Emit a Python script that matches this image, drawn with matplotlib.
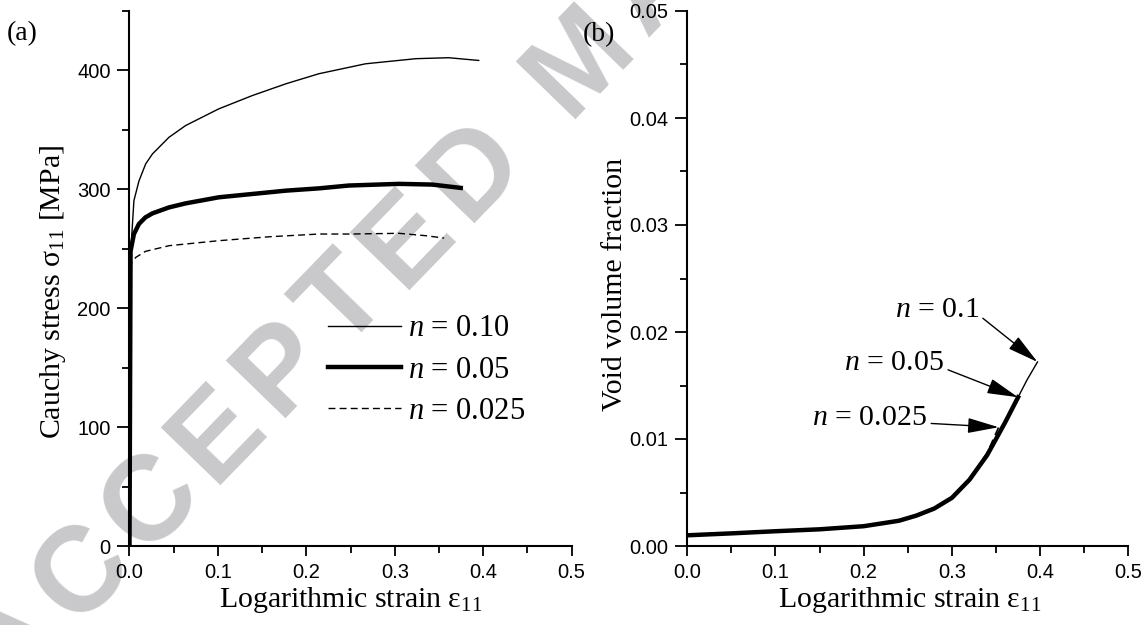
import math
import matplotlib
matplotlib.use("Agg")
import matplotlib.pyplot as plt
from matplotlib.ticker import MultipleLocator, FormatStrFormatter

plt.rcParams['font.family'] = ['Liberation Sans', 'DejaVu Sans']
plt.rcParams['mathtext.fontset'] = 'custom'
plt.rcParams['mathtext.rm'] = 'Liberation Serif'
plt.rcParams['mathtext.it'] = 'Liberation Serif:italic'
plt.rcParams['mathtext.bf'] = 'Liberation Serif:bold'

# ---------------- data (a) stress-strain ----------------
strain_n010 = [0.0, 0.0012, 0.005, 0.0107, 0.0183, 0.026, 0.0447, 0.0636, 0.101, 0.139,
               0.177, 0.214, 0.267, 0.324, 0.361, 0.395]
stress_n010 = [0.0, 245, 290.5, 307, 321.4, 329.8, 343.8, 353.7, 367.7, 378.9,
               388.8, 397.2, 405.6, 409.9, 410.7, 408.4]

strain_n005 = [0.0, 0.0012, 0.005, 0.0107, 0.018, 0.026, 0.0447, 0.0636, 0.101, 0.139,
               0.177, 0.214, 0.248, 0.305, 0.3425, 0.3746]
stress_n005 = [0.0, 248, 262.4, 270.9, 276.4, 279.8, 284.8, 288.2, 293.3, 296.1,
               298.9, 300.8, 303.2, 304.6, 304.0, 301.2]

strain_n0025 = [0.0, 0.0012, 0.007, 0.018, 0.0447, 0.101, 0.158, 0.214, 0.248, 0.305,
                0.335, 0.3558]
stress_n0025 = [0.0, 237, 242.7, 247.8, 252.6, 256.8, 260.1, 262.4, 262.4, 263.0,
                261.0, 259.0]

# ---------------- data (b) void volume fraction ----------------
vstrain_n010 = [0.0, 0.05, 0.10, 0.15, 0.20, 0.24, 0.26, 0.28, 0.30, 0.32, 0.34, 0.36,
                0.375, 0.385, 0.397]
void_n010 = [0.00100, 0.00118, 0.00138, 0.00156, 0.00185, 0.00236, 0.00285, 0.0035,
             0.0045, 0.0062, 0.0085, 0.0115, 0.0139, 0.0155, 0.0172]

vstrain_n005 = [0.0, 0.05, 0.10, 0.15, 0.20, 0.24, 0.26, 0.28, 0.30, 0.32, 0.34, 0.36,
                0.375]
void_n005 = [0.00100, 0.00118, 0.00138, 0.00156, 0.00185, 0.00236, 0.00285, 0.0035,
             0.0045, 0.0062, 0.0085, 0.0115, 0.0139]

vstrain_n0025 = [0.0, 0.05, 0.10, 0.15, 0.20, 0.24, 0.26, 0.28, 0.30, 0.32, 0.34, 0.353]
void_n0025 = [0.00100, 0.00118, 0.00138, 0.00157, 0.00187, 0.00240, 0.00290, 0.0036,
              0.0046, 0.0063, 0.0087, 0.0111]

legend_labels = ["$n$ = 0.10", "$n$ = 0.05", "$n$ = 0.025"]
annot_labels = ["$n$ = 0.1", "$n$ = 0.05", "$n$ = 0.025"]
watermark = "ACCEPTED MANUSCRIPT"

SERIF = 'Liberation Serif'
SANS = 'Liberation Sans'
LABEL_FS = 21.5
W, H = 1148, 625

fig = plt.figure(figsize=(W / 100, H / 100), dpi=100)

# ---- watermark: letter-spaced bold text laid along a 45.9 degree line
adv = {'A': .722, 'C': .722, 'E': .667, 'P': .667, 'T': .611, 'D': .722,
       ' ': .278, 'M': .833, 'N': .722, 'U': .722, 'S': .667, 'R': .722, 'I': .278}
em_px = 120.0
track_px = 12.7
theta = math.radians(45.9)
ux, uy = math.cos(theta), -math.sin(theta)          # text direction (image px, y down)
ref_idx, ref_cx, ref_cy = 2, 143.5, 495.0            # centre of the second 'C'
centres = [0.0]
for a, b in zip(watermark[:-1], watermark[1:]):
    centres.append(centres[-1] + (adv[a] + adv[b]) / 2 * em_px + track_px)
off = centres[ref_idx]
half_cap = 0.716 * em_px / 2
for ch, s in zip(watermark, centres):
    if ch == ' ':
        continue
    cx = ref_cx + (s - off) * ux
    cy = ref_cy + (s - off) * uy
    bx = cx + half_cap * math.sin(theta)
    by = cy + half_cap * math.cos(theta)
    fig.text(bx / W, 1 - by / H, ch, fontsize=em_px * 0.72, fontweight='bold',
             family=SANS, color=(0.79, 0.79, 0.80), rotation=math.degrees(theta),
             rotation_mode='anchor', ha='center', va='baseline', zorder=-5)

axA = fig.add_axes([0.1128, 0.1264, 0.3851, 0.856])
axB = fig.add_axes([0.5986, 0.1264, 0.3843, 0.856])

for ax in (axA, axB):
    ax.patch.set_alpha(0)
    ax.spines['top'].set_visible(False)
    ax.spines['right'].set_visible(False)
    for s in ('left', 'bottom'):
        ax.spines[s].set_linewidth(1.5)
    ax.tick_params(which='both', direction='out', width=1.3, labelsize=14.5)
    ax.tick_params(axis='y', which='major', length=9, pad=4.5)
    ax.tick_params(axis='x', which='major', length=7.5, pad=4.5)
    ax.tick_params(which='minor', length=4.8)
    ax.set_xlim(0, 0.5)
    ax.xaxis.set_major_locator(MultipleLocator(0.1))
    ax.xaxis.set_minor_locator(MultipleLocator(0.05))
    ax.xaxis.set_major_formatter(FormatStrFormatter('%.1f'))

# ----- panel (a)
axA.plot(strain_n010, stress_n010, color='k', lw=1.0, label=legend_labels[0])
axA.plot(strain_n005, stress_n005, color='k', lw=3.2, label=legend_labels[1])
axA.plot(strain_n0025, stress_n0025, color='k', lw=1.0, ls=(0, (5, 3)),
         label=legend_labels[2])
axA.set_ylim(0, 450)
axA.yaxis.set_major_locator(MultipleLocator(100))
axA.yaxis.set_minor_locator(MultipleLocator(50))
axA.yaxis.set_major_formatter(FormatStrFormatter('%d'))
axA.set_xlabel("Logarithmic strain ε$_{11}$", family=SERIF, fontsize=LABEL_FS)
axA.set_ylabel("Cauchy stress σ$_{11}$ [MPa]", family=SERIF, fontsize=LABEL_FS)
axA.xaxis.set_label_coords(0.5, -0.073)
axA.yaxis.set_label_coords(-0.139, 0.475)
leg = axA.legend(loc='upper left', bbox_to_anchor=(0.45, 0.433), frameon=False,
                 prop={'family': SERIF, 'size': 22}, handlelength=2.39,
                 handletextpad=0.2, labelspacing=0.4, borderpad=0,
                 borderaxespad=0)

# ----- panel (b)
axB.plot(vstrain_n010, void_n010, color='k', lw=1.0)
axB.plot(vstrain_n005, void_n005, color='k', lw=3.2)
axB.plot(vstrain_n0025, void_n0025, color='k', lw=1.2, ls=(0, (5, 3)))
axB.set_ylim(0, 0.05)
axB.yaxis.set_major_locator(MultipleLocator(0.01))
axB.yaxis.set_minor_locator(MultipleLocator(0.005))
axB.yaxis.set_major_formatter(FormatStrFormatter('%.2f'))
axB.set_xlabel("Logarithmic strain ε$_{11}$", family=SERIF, fontsize=LABEL_FS)
axB.set_ylabel("Void volume fraction", family=SERIF, fontsize=LABEL_FS)
axB.xaxis.set_label_coords(0.505, -0.073)
axB.yaxis.set_label_coords(-0.134, 0.488)

annot_targets = [(vstrain_n010[-1], void_n010[-1]),
                 (vstrain_n005[-1], void_n005[-1]),
                 (vstrain_n0025[-1], void_n0025[-1])]
annot_text_pos = [(0.3307, 0.02206), (0.2910, 0.0171), (0.2718, 0.01196)]
for lab, tgt, tpos in zip(annot_labels, annot_targets, annot_text_pos):
    axB.annotate(lab, xy=tgt, xytext=tpos, ha='right', va='center',
                 family=SERIF, fontsize=21.5,
                 arrowprops=dict(arrowstyle='-|>,head_length=0.9,head_width=0.22',
                                 color='k', lw=1.0, shrinkA=1, shrinkB=0,
                                 relpos=(1.0, 0.3)))

fig.text(7 / W, 1 - 34 / H, "(a)", family=SERIF, fontsize=20, va='center')
fig.text(583 / W, 1 - 35 / H, "(b)", family=SERIF, fontsize=20, va='center')

fig.savefig("out.png", dpi=100)
